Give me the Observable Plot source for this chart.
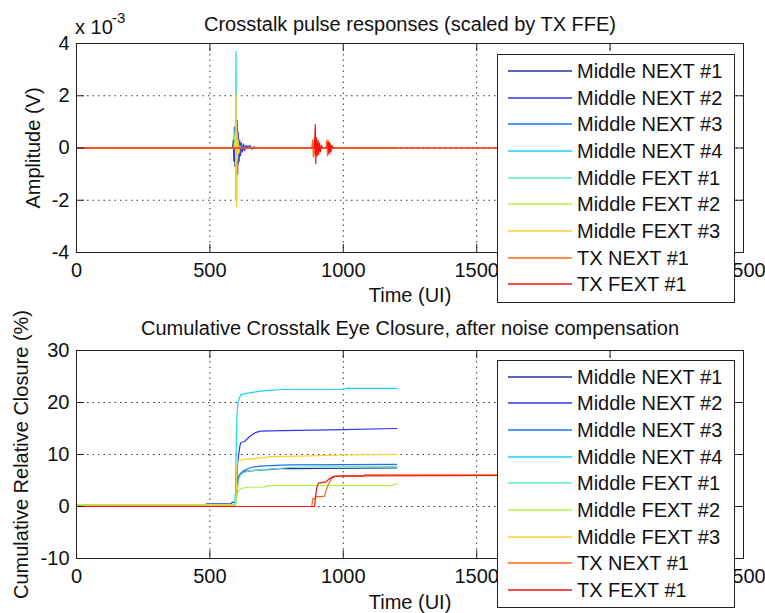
<!DOCTYPE html>
<html><head><meta charset="utf-8">
<script src="https://cdn.jsdelivr.net/npm/d3@7"></script>
<script src="https://cdn.jsdelivr.net/npm/@observablehq/plot@0.6"></script>
<style>
body{margin:0;background:#fff;}
#wrap{position:relative;width:765px;height:613px;overflow:hidden;font-family:"Liberation Sans",Arial,sans-serif;color:#000;background:#fff}
#wrap > svg{display:block}
.legend{position:absolute;background:#fff;border:1px solid #222;box-sizing:border-box}
.row{position:absolute;left:0;display:flex;align-items:center;height:26px}
.sw{margin-left:10px;display:block}
.lbl{margin-left:5px;font-size:20px;white-space:nowrap;color:#111}
.exp{position:absolute;font-size:20px;line-height:20px;color:#111}
</style></head><body><div id="wrap"></div><script>
// ---- data ----
const SERIES_NAMES = ["Middle NEXT #1","Middle NEXT #2","Middle NEXT #3","Middle NEXT #4","Middle FEXT #1","Middle FEXT #2","Middle FEXT #3","TX NEXT #1","TX FEXT #1"];
const SERIES_COLORS = ["#2b2b9e","#3535f0","#1e6ff5","#12d8f5","#5cf0b4","#b4f04a","#ffd028","#ff6414","#f41010"];
const X_TICKS = [0,500,1000,1500,2000,2500];
const X_TICK_LABELS = ["0","500","1000","1500","","2500"]; // 2000 is hidden behind the legend
const TOP_Y_TICKS = [-4,-2,0,2,4];      // x 10^-3 V
const BOT_Y_TICKS = [-10,0,10,20,30];   // %

// Pulse responses (amplitude, x 10^-3 V) vs time (UI)
const pulseNext1T = [0,585,588,590,592,594,596,598,600,602,604,606,608,610,614,620,630,640,1200];
const pulseNext1V = [0,0,0.3,-0.5,0.8,-0.7,0.5,-0.4,0.6,-0.8,0.4,-0.6,0.3,-0.2,0.15,-0.1,0.05,0,0];
const pulseNext2T = [0,588,592,596,600,602,604,606,608,610,612,615,618,622,626,630,636,642,650,658,666,672,1200];
const pulseNext2V = [0,0,-0.4,0.6,-0.5,1.05,-1.0,0.6,-0.2,-0.5,0.3,-0.3,0.2,-0.15,0.15,-0.1,0.1,0.05,0.1,-0.05,0.05,0,0];
const pulseNext3T = [0,590,594,597,600,603,606,610,616,625,1200];
const pulseNext3V = [0,0,0.4,-0.5,0.6,-0.5,0.3,-0.2,0.1,0,0];
const pulseNext4T = [0,594,596,598,599,600,602,604,606,608,612,618,1200];
const pulseNext4V = [0,0,0.3,3.7,-1.0,-2.0,0.6,-0.5,0.3,-0.2,0.1,0,0];
const pulseFext1T = [0,590,594,596,597,599,601,604,608,1200];
const pulseFext1V = [0,0,0.6,1.0,-2.0,0.5,-0.3,0.2,0,0];
const pulseFext2T = [0,592,595,598,600,602,605,1200];
const pulseFext2V = [0,0,0.5,-0.6,0.5,-0.3,0,0];
const pulseFext3T = [0,595,597,598,599,600,601,603,605,608,612,1200];
const pulseFext3V = [0,0,0.4,2.1,-0.5,-2.25,0.6,-0.4,0.3,-0.2,0,0];
const pulseTxNextT = [0,882,885,888,891,894,897,900,904,935,938,941,944,947,950,954,958,962,2000];
const pulseTxNextV = [0,0,0.3,-0.35,0.35,-0.3,0.2,-0.1,0,0,0.3,-0.3,0.25,-0.25,0.2,-0.15,0.1,0,0];
const pulseTxFextT = [0,892,895,897,899,902,905,908,911,914,918,922,940,943,946,949,952,956,960,2000];
const pulseTxFextV = [0,0,0.9,-0.6,0.4,-0.3,0.3,-0.25,0.2,-0.15,0.1,0,0,0.25,-0.2,0.2,-0.15,0.1,0,0];

// Cumulative relative closure (%) vs time (UI)
const closNext1T = [0,590,596,600,604,610,620,640,680,720,760,800,1200];
const closNext1V = [0.3,0.3,1,3,5,6,6.5,6.8,7.0,7.1,7.3,7.3,7.4];
const closNext2T = [0,485,487,580,583,596,600,604,608,612,616,630,650,670,690,770,1000,1200];
const closNext2V = [0.3,0.3,0.5,0.5,0.8,0.8,4,8,10,11.5,12.3,12.5,13.5,14.2,14.5,14.6,14.8,15.0];
const closNext3T = [0,596,600,604,608,614,625,640,660,700,800,1200];
const closNext3V = [0.3,0.3,2,4,5.5,6.3,6.8,7.2,7.6,7.8,8.0,8.1];
const closNext4T = [0,592,596,598,600,602,605,610,616,640,690,770,1000,1010,1200];
const closNext4V = [0.3,0.3,3,10,15,18,20,20.8,21.5,21.8,22.2,22.5,22.5,22.7,22.7];
const closFext1T = [0,596,600,604,608,614,625,650,700,800,950,1200];
const closFext1V = [0.3,0.3,2,4,5.2,6.0,6.5,6.9,7.1,7.5,7.7,7.7];
const closFext2T = [0,596,600,604,608,612,620,640,700,720,1000,1185,1190,1200];
const closFext2V = [0.3,0.3,1.5,2.5,3.0,3.3,3.5,3.7,3.7,4.0,4.0,4.0,4.3,4.3];
const closFext3T = [0,595,598,600,602,604,610,640,680,730,850,1000,1200];
const closFext3V = [0.3,0.3,2,5,8,8.6,8.9,9.1,9.3,9.6,9.7,9.9,10.0];
const closTxNextT = [0,882,885,895,898,916,930,935,942,948,960,1075,1080,2000];
const closTxNextV = [0,0,1.5,1.5,1.9,1.9,2.0,3,4,4.6,5.8,5.8,6.1,6.1];
const closTxFextT = [0,893,895,898,900,904,908,930,934,945,950,962,968,1000,2000];
const closTxFextV = [0,0,1.5,2.7,3.5,4.2,4.5,4.7,4.7,5.2,5.4,5.6,5.8,5.9,6.0];

const PULSE = [[pulseNext1T,pulseNext1V],[pulseNext2T,pulseNext2V],[pulseNext3T,pulseNext3V],[pulseNext4T,pulseNext4V],[pulseFext1T,pulseFext1V],[pulseFext2T,pulseFext2V],[pulseFext3T,pulseFext3V],[pulseTxNextT,pulseTxNextV],[pulseTxFextT,pulseTxFextV]];
const CLOS = [[closNext1T,closNext1V],[closNext2T,closNext2V],[closNext3T,closNext3V],[closNext4T,closNext4V],[closFext1T,closFext1V],[closFext2T,closFext2V],[closFext3T,closFext3V],[closTxNextT,closTxNextV],[closTxFextT,closTxFextV]];

const FONT = '"Liberation Sans", Arial, sans-serif';
const ML = 76, MR = 22, W = 765;

function panel({height, marginTop, marginBottom, yDomain, yTicks, series, title, titleDy, xlabelDy, ylabel, ylabelDx}) {
  const fw = W - ML - MR, fh = height - marginTop - marginBottom;
  const lines = series.map(([t, v], i) =>
    Plot.line(t.map((tt, k) => ({t: tt, v: v[k]})), {x: "t", y: "v", stroke: SERIES_COLORS[i], strokeWidth: 1.2}));
  const grid = {stroke: "#222", strokeDasharray: "1.5,4", strokeWidth: 1, strokeOpacity: 0.9};
  const tk = {stroke: "#222", strokeWidth: 1};
  return Plot.plot({
    width: W, height, marginLeft: ML, marginRight: MR, marginTop, marginBottom,
    style: {fontFamily: FONT, fontSize: "20px", background: "#fff", color: "#111", overflow: "visible"},
    x: {domain: [0, 2500]}, y: {domain: yDomain},
    marks: [
      Plot.ruleX(X_TICKS.slice(1, -1), grid),
      Plot.ruleY(yTicks.slice(1, -1), grid),
      ...lines,
      Plot.frame({stroke: "#222", strokeWidth: 1}),
      Plot.ruleX(X_TICKS, {...tk, insetTop: fh - 8}),
      Plot.ruleX(X_TICKS, {...tk, insetBottom: fh - 8}),
      Plot.ruleY(yTicks, {...tk, insetRight: fw - 8}),
      Plot.ruleY(yTicks, {...tk, insetLeft: fw - 8}),
      Plot.axisX({ticks: X_TICKS, tickSize: 0, tickPadding: 10, label: null, tickFormat: d => X_TICK_LABELS[X_TICKS.indexOf(d)], fontSize: 20}),
      Plot.axisY({ticks: yTicks, tickSize: 0, tickPadding: 7, label: null, tickFormat: d => String(d), fontSize: 20}),
      Plot.text([title], {text: d => d, frameAnchor: "top", textAnchor: "middle", lineAnchor: "middle", dy: titleDy, fontSize: 20}),
      Plot.text(["Time (UI)"], {text: d => d, frameAnchor: "bottom", textAnchor: "middle", lineAnchor: "middle", dy: xlabelDy, fontSize: 20}),
      Plot.text([ylabel], {text: d => d, frameAnchor: "left", textAnchor: "middle", lineAnchor: "middle", dx: ylabelDx, rotate: -90, fontSize: 20})
    ]
  });
}

const wrap = document.getElementById("wrap");
wrap.appendChild(panel({height: 306, marginTop: 43, marginBottom: 54, yDomain: [-4, 4], yTicks: TOP_Y_TICKS,
  series: PULSE, title: "Crosstalk pulse responses (scaled by TX FFE)", titleDy: -19, xlabelDy: 43,
  ylabel: "Amplitude (V)", ylabelDx: -43}));
wrap.appendChild(panel({height: 307, marginTop: 44, marginBottom: 55, yDomain: [-10, 30], yTicks: BOT_Y_TICKS,
  series: CLOS, title: "Cumulative Crosstalk Eye Closure, after noise compensation", titleDy: -22, xlabelDy: 44,
  ylabel: "Cumulative Relative Closure (%)", ylabelDx: -55}));

// exponent label
const e1 = document.createElement("div"); e1.className = "exp"; e1.style.left = "75px"; e1.style.top = "17px"; e1.textContent = "x 10"; wrap.appendChild(e1);
const e2 = document.createElement("div"); e2.className = "exp"; e2.style.left = "112px"; e2.style.top = "8px"; e2.style.fontSize = "15px"; e2.textContent = "-3"; wrap.appendChild(e2);

const NS = "http://www.w3.org/2000/svg";
function legend(top, height, firstRow) {
  const box = document.createElement("div");
  box.className = "legend";
  Object.assign(box.style, {left: "497px", top: top + "px", width: "238px", height: height + "px"});
  SERIES_NAMES.forEach((name, i) => {
    const r = document.createElement("div");
    r.className = "row";
    r.style.top = Math.round(firstRow + 26.67 * i - 13 - 1) + "px";
    const sw = document.createElementNS(NS, "svg");
    sw.setAttribute("width", 64); sw.setAttribute("height", 6); sw.setAttribute("class", "sw");
    const ln = document.createElementNS(NS, "line");
    ln.setAttribute("x1", 0); ln.setAttribute("x2", 64); ln.setAttribute("y1", 3); ln.setAttribute("y2", 3);
    ln.setAttribute("stroke", SERIES_COLORS[i]); ln.setAttribute("stroke-width", 1.4);
    sw.appendChild(ln);
    const lb = document.createElement("div"); lb.className = "lbl"; lb.textContent = name;
    r.appendChild(sw); r.appendChild(lb); box.appendChild(r);
  });
  wrap.appendChild(box);
}
legend(54, 249, 17);
legend(360, 248, 16.7);
</script></body></html>
